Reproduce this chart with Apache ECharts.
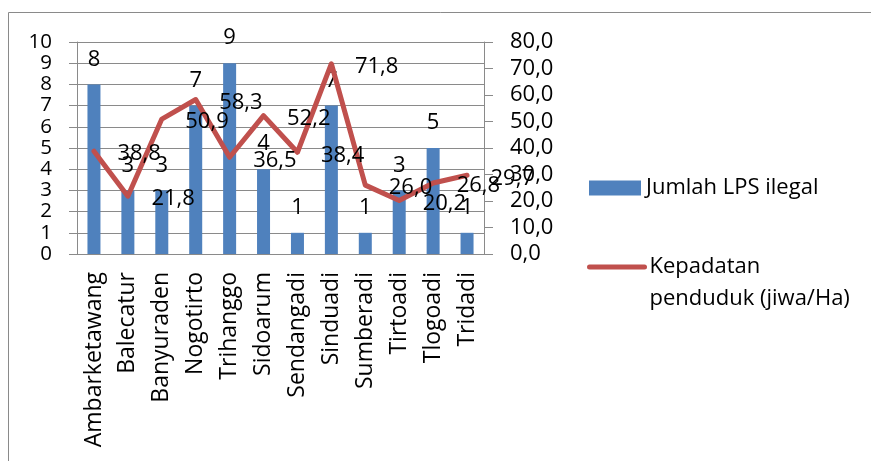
<!DOCTYPE html>
<html>
<head>
<meta charset="utf-8">
<script src="https://cdn.jsdelivr.net/npm/echarts@6/dist/echarts.min.js"></script>
<style>
  html, body { margin: 0; padding: 0; background: #fff; }
  #chart { width: 871px; height: 461px; }
</style>
</head>
<body>
<div id="chart"></div>
<script>
var villages = ['Ambarketawang', 'Balecatur', 'Banyuraden', 'Nogotirto', 'Trihanggo', 'Sidoarum',
  'Sendangadi', 'Sinduadi', 'Sumberadi', 'Tirtoadi', 'Tlogoadi', 'Tridadi'];
var lpsIlegal = [8, 3, 3, 7, 9, 4, 1, 7, 1, 3, 5, 1];
var kepadatan = [38.8, 21.8, 50.9, 58.3, 36.5, 52.2, 38.4, 71.8, 26.0, 20.2, 26.8, 29.7];

var chart = echarts.init(document.getElementById('chart'), null, { renderer: 'canvas' });

var gray = '#8a8a8a';
var font = 'Open Sans';

function comma(v) {
  return Number(v).toFixed(1).replace('.', ',');
}

var option = {
  animation: false,
  textStyle: { fontFamily: font, color: '#000' },
  graphic: [{
    type: 'rect',
    shape: { x: 8.5, y: 12.5, width: 900, height: 500 },
    style: { fill: 'none', stroke: gray, lineWidth: 1 },
    silent: true
  }],
  grid: { left: 77, right: 387, top: 42, bottom: 207 },
  legend: [{
    left: 584,
    top: 172,
    itemWidth: 52,
    itemHeight: 15,
    icon: 'rect',
    data: ['Jumlah LPS ilegal'],
    textStyle: { fontFamily: font, fontSize: 22, color: '#000' }
  }, {
    left: 582,
    top: 214,
    itemWidth: 55,
    itemHeight: 15,
    data: ['Kepadatan penduduk (jiwa/Ha)'],
    itemStyle: { opacity: 0 },
    lineStyle: { width: 5, cap: 'round' },
    formatter: function () { return '\nKepadatan\npenduduk (jiwa/Ha)'; },
    textStyle: { fontFamily: font, fontSize: 22, lineHeight: 32, color: '#000' }
  }],
  xAxis: {
    type: 'category',
    data: villages,
    boundaryGap: true,
    axisLine: { lineStyle: { color: gray } },
    axisTick: { interval: 0, length: 8, lineStyle: { color: gray } },
    axisLabel: {
      interval: 0,
      rotate: 90,
      margin: 18,
      fontFamily: font,
      fontSize: 23,
      color: '#000'
    }
  },
  yAxis: [{
    type: 'value',
    min: 0,
    max: 10,
    interval: 1,
    axisLine: { show: true, lineStyle: { color: gray } },
    axisTick: { show: true, length: 8, lineStyle: { color: gray } },
    splitLine: { show: true, lineStyle: { color: gray } },
    axisLabel: {
      margin: 25,
      fontFamily: font,
      fontSize: 20.5,
      color: '#000',
      showMinLabel: true,
      showMaxLabel: true
    }
  }, {
    type: 'value',
    min: 0,
    max: 80,
    interval: 10,
    position: 'right',
    axisLine: { show: true, lineStyle: { color: gray } },
    axisTick: { show: true, length: 9, lineStyle: { color: gray } },
    splitLine: { show: false },
    axisLabel: {
      margin: 26,
      fontFamily: font,
      fontSize: 22,
      color: '#000',
      showMinLabel: true,
      showMaxLabel: true,
      formatter: comma
    }
  }],
  series: [{
    name: 'Jumlah LPS ilegal',
    type: 'bar',
    yAxisIndex: 0,
    data: lpsIlegal,
    barWidth: 13,
    itemStyle: { color: '#4F81BD' },
    label: {
      show: true,
      position: 'top',
      distance: 14,
      fontFamily: font,
      fontSize: 22,
      color: '#000'
    }
  }, {
    name: 'Kepadatan penduduk (jiwa/Ha)',
    type: 'line',
    yAxisIndex: 1,
    data: kepadatan,
    symbol: 'circle',
    symbolSize: 1,
    showSymbol: true,
    lineStyle: { color: '#C0504D', width: 5, cap: 'round', join: 'round' },
    itemStyle: { color: '#C0504D' },
    z: 3,
    label: {
      show: true,
      position: 'right',
      distance: 23,
      offset: [0, 3],
      fontFamily: font,
      fontSize: 22,
      color: '#000',
      formatter: function (p) { return comma(p.value); }
    }
  }]
};

chart.setOption(option);
window.addEventListener('resize', chart.resize);
</script>
</body>
</html>
